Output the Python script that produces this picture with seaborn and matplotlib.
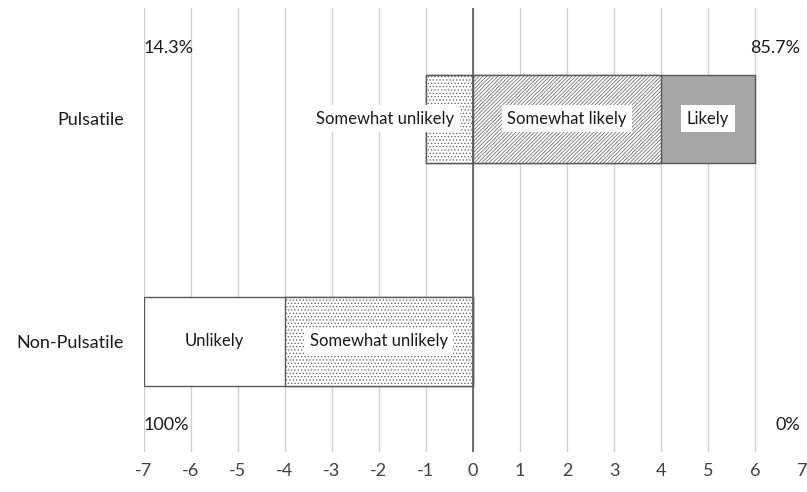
import numpy as np
import pandas as pd
import matplotlib
matplotlib.use("Agg")
import matplotlib.pyplot as plt
import seaborn as sns

groups = ["Pulsatile", "Non-Pulsatile"]
unlikely = [0, 3]
somewhat_unlikely = [1, 4]
somewhat_likely = [4, 0]
likely = [2, 0]
pct_neg = ["14.3%", "100%"]
pct_pos = ["85.7%", "0%"]
xticks = list(range(-7, 8))

sns.set_style("white")
plt.rcParams["font.family"] = ["Lato", "DejaVu Sans"]
plt.rcParams["hatch.linewidth"] = 0.5

edge = "#595959"
fig = plt.figure(figsize=(8.07, 4.92), dpi=100)
ax = fig.add_axes([0.178, 0.081, 0.816, 0.903])

# stacked layers drawn longest first (bars start at 0)
neg_total = [-(a + b) for a, b in zip(unlikely, somewhat_unlikely)]
neg_inner = [-b for b in somewhat_unlikely]
pos_total = [a + b for a, b in zip(somewhat_likely, likely)]
pos_inner = list(somewhat_likely)

layers = [
    (neg_total, "white", ""),
    (neg_inner, "white", "....."),
    (pos_total, "#a6a6a6", ""),
    (pos_inner, "white", "/////////"),
]
for vals, fc, hatch in layers:
    n0 = len(ax.patches)
    df = pd.DataFrame({"group": groups, "value": vals})
    sns.barplot(data=df, x="value", y="group", orient="h", width=0.4,
                color=fc, saturation=1, ax=ax, zorder=3)
    for p in ax.patches[n0:]:
        p.set_facecolor(fc)
        p.set_edgecolor(edge)
        p.set_linewidth(1)
        p.set_hatch(hatch)
        if p.get_width() == 0:
            p.set_visible(False)

ax.set_xlim(-7, 7)
ax.set_ylim(1.5, -0.5)
ax.set_xticks(xticks)
ax.set_xticklabels([str(t) for t in xticks], fontsize=13, color="#404040")
ax.tick_params(axis="x", length=0, pad=8)
ax.tick_params(axis="y", length=0, pad=14, labelsize=13, labelcolor="#1a1a1a")
ax.set_xlabel("")
ax.set_ylabel("")
for s in ax.spines.values():
    s.set_visible(False)
for t in xticks:
    ax.axvline(t, color="#d0d0d0", lw=1, zorder=0)
ax.axvline(0, color=edge, lw=1.2, zorder=4)

box = dict(facecolor="white", edgecolor="none", pad=4)
segments = [("Unlikely", unlikely, -1, 1), ("Somewhat unlikely", somewhat_unlikely, -1, 0),
            ("Somewhat likely", somewhat_likely, 1, 0), ("Likely", likely, 1, 1)]
for i, g in enumerate(groups):
    for name, vals, sign, order in segments:
        v = vals[i]
        if v == 0:
            continue
        if sign < 0:
            inner = somewhat_unlikely[i] if order == 1 else 0
            lo, hi = -(inner + v), -inner
        else:
            inner = somewhat_likely[i] if order == 1 else 0
            lo, hi = inner, inner + v
        if v < 2:
            ax.text(hi - 0.4, i, name, ha="right", va="center", fontsize=12,
                    color="#1a1a1a", bbox=box, zorder=5)
        else:
            ax.text((lo + hi) / 2, i, name, ha="center", va="center", fontsize=12,
                    color="#1a1a1a", bbox=box, zorder=5)
    off = -0.32 if i == 0 else 0.38
    ax.text(-7, i + off, pct_neg[i], ha="left", va="center", fontsize=13, color="#1a1a1a")
    ax.text(6.95, i + off, pct_pos[i], ha="right", va="center", fontsize=13, color="#1a1a1a")

fig.savefig("out.png", dpi=100)
